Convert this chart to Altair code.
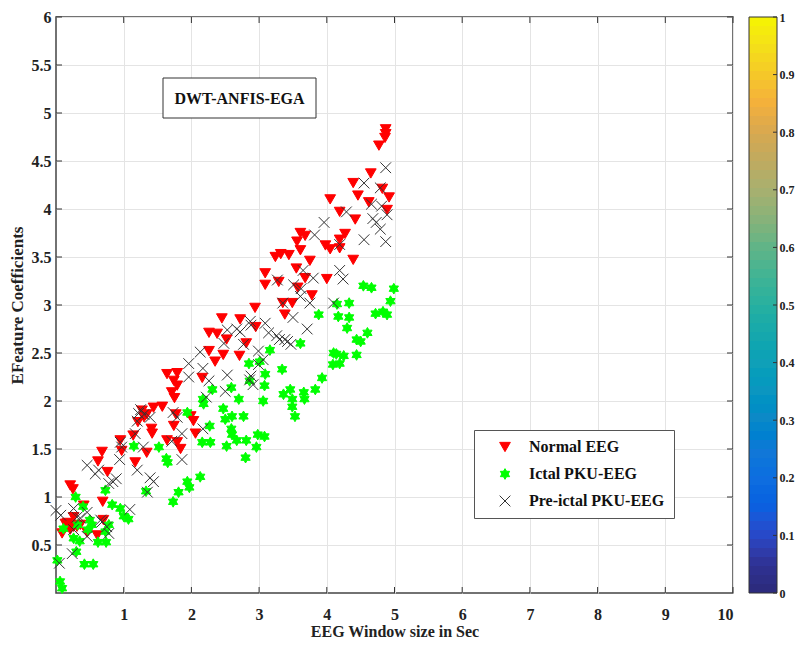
import math
import altair as alt
import pandas as pd

# ---------------- data ----------------
SERIES = ["Normal EEG", "Ictal PKU-EEG", "Pre-ictal PKU-EEG"]

normal_x = [4.87, 4.87, 4.86, 4.77, 4.65, 4.39, 4.82, 4.92, 4.46, 4.05, 4.62, 4.89, 4.19, 4.42,
            4.27, 4.19, 4.19, 3.98, 4.05, 4.39, 4.00, 3.61, 3.68, 3.56, 3.61, 3.24, 3.32, 3.44,
            3.75, 3.55, 3.09, 3.68, 3.29, 3.09, 3.57, 3.78, 3.35, 3.49, 2.94, 3.38, 2.45, 2.72,
            2.95, 2.26, 2.38, 2.52, 2.81, 2.26, 2.47, 2.71, 2.35, 1.64, 1.79, 1.74, 1.79, 2.16,
            1.71, 1.75, 1.44, 1.57, 1.27, 1.34, 1.30, 1.21, 1.41, 1.42, 1.77, 1.99, 2.03, 1.74,
            2.06, 1.64, 1.79, 1.84, 0.95, 0.97, 1.14, 1.34, 1.17, 0.68, 0.62, 0.76, 0.21, 0.25,
            0.69, 0.41, 0.26, 0.70, 0.14, 0.20, 0.26, 0.36, 0.09, 0.21, 0.46, 0.61, 0.31, 0.17]
normal_y = [4.83, 4.78, 4.74, 4.66, 4.37, 4.27, 4.21, 4.12, 4.14, 4.10, 4.07, 3.99, 3.97, 3.89,
            3.74, 3.68, 3.59, 3.62, 3.58, 3.47, 3.27, 3.75, 3.72, 3.66, 3.57, 3.50, 3.53, 3.52,
            3.46, 3.38, 3.33, 3.28, 3.24, 3.21, 3.18, 3.10, 3.02, 3.02, 2.97, 2.90, 2.86, 2.85,
            2.77, 2.71, 2.70, 2.64, 2.60, 2.52, 2.48, 2.47, 2.41, 2.28, 2.29, 2.21, 2.16, 2.24,
            2.09, 2.03, 1.93, 1.94, 1.90, 1.86, 1.83, 1.78, 1.71, 1.66, 1.86, 1.84, 1.79, 1.74,
            1.66, 1.59, 1.57, 1.50, 1.59, 1.48, 1.64, 1.46, 1.36, 1.47, 1.37, 1.26, 1.12, 1.08,
            0.95, 0.91, 0.79, 0.76, 0.72, 0.71, 0.69, 0.71, 0.62, 0.66, 0.63, 0.60, 0.69, 0.73]

ictal_x = [4.54, 4.66, 4.99, 4.94, 4.15, 4.33, 3.88, 4.17, 4.33, 4.72, 4.83, 4.89, 4.30, 4.60,
           4.44, 4.50, 3.61, 3.16, 4.10, 4.14, 4.25, 4.44, 4.09, 4.19, 3.34, 3.93, 3.09, 2.85,
           3.01, 2.59, 2.31, 3.83, 2.86, 3.08, 3.46, 3.36, 3.66, 3.67, 3.06, 3.49, 3.49, 2.17,
           2.18, 2.70, 2.47, 1.94, 2.60, 2.77, 2.50, 3.53, 2.27, 2.59, 2.60, 2.67, 2.81, 2.98,
           3.08, 2.16, 2.28, 2.52, 2.96, 2.80, 1.15, 1.52, 1.63, 1.65, 2.13, 1.94, 1.97, 1.81,
           1.73, 1.33, 0.73, 0.83, 0.29, 0.40, 0.95, 1.00, 1.07, 0.50, 0.53, 0.78, 0.11, 0.32,
           0.47, 0.73, 0.26, 0.35, 0.62, 0.74, 0.30, 0.02, 0.42, 0.55, 0.06, 0.09]
ictal_y = [3.20, 3.18, 3.17, 3.04, 3.01, 3.02, 2.90, 2.88, 2.87, 2.91, 2.93, 2.90, 2.76, 2.71,
           2.64, 2.62, 2.60, 2.53, 2.50, 2.49, 2.47, 2.48, 2.38, 2.39, 2.33, 2.24, 2.28, 2.39,
           2.41, 2.14, 2.12, 2.12, 2.21, 2.16, 2.12, 2.07, 2.09, 2.02, 2.00, 2.02, 1.94, 2.02,
           1.97, 2.02, 1.92, 1.88, 1.84, 1.84, 1.81, 1.84, 1.74, 1.71, 1.65, 1.59, 1.59, 1.65,
           1.63, 1.57, 1.57, 1.53, 1.52, 1.41, 1.53, 1.52, 1.40, 1.36, 1.21, 1.16, 1.10, 1.05,
           0.95, 1.06, 1.07, 0.92, 1.00, 0.90, 0.88, 0.80, 0.77, 0.76, 0.71, 0.71, 0.67, 0.71,
           0.66, 0.64, 0.57, 0.54, 0.53, 0.53, 0.43, 0.34, 0.30, 0.30, 0.12, 0.05]

preictal_x = [4.87, 4.55, 4.79, 4.66, 4.81, 4.29, 4.89, 4.68, 4.73, 3.96, 4.79, 3.82, 4.55, 4.87,
              4.19, 4.19, 3.65, 3.80, 4.24, 3.27, 3.51, 3.62, 3.61, 4.10, 3.75, 3.35, 3.50, 2.87,
              3.09, 2.88, 2.67, 2.53, 3.14, 2.72, 3.26, 3.71, 3.30, 3.38, 3.42, 3.47, 2.77, 2.48,
              2.13, 2.99, 3.06, 2.99, 1.96, 2.17, 1.96, 2.26, 2.53, 2.88, 2.86, 2.91, 2.50, 2.22,
              1.25, 1.22, 1.30, 1.39, 1.20, 1.73, 1.79, 2.17, 1.86, 1.17, 1.71, 0.95, 0.97, 1.29,
              1.86, 0.94, 1.20, 0.46, 0.58, 0.63, 0.78, 0.84, 0.89, 1.39, 1.44, 1.35, 1.09, 0.00,
              0.07, 0.26, 0.31, 0.46, 0.68, 0.75, 0.78, 0.46, 0.24, 0.05, 0.36, 0.66, 0.26]
preictal_y = [4.43, 4.27, 4.22, 4.05, 4.03, 3.97, 3.94, 3.90, 3.86, 3.86, 3.79, 3.73, 3.68, 3.66,
              3.63, 3.36, 3.36, 3.28, 3.27, 3.26, 3.21, 3.17, 3.09, 3.02, 3.02, 3.02, 2.87, 2.83,
              2.81, 2.79, 2.75, 2.74, 2.71, 2.72, 2.68, 2.75, 2.64, 2.64, 2.62, 2.59, 2.59, 2.60,
              2.51, 2.52, 2.43, 2.38, 2.39, 2.34, 2.25, 2.21, 2.27, 2.26, 2.22, 2.17, 2.10, 2.04,
              1.91, 1.87, 1.86, 1.83, 1.79, 1.88, 1.83, 1.71, 1.66, 1.66, 1.58, 1.57, 1.52, 1.52,
              1.39, 1.39, 1.28, 1.33, 1.24, 1.28, 1.14, 1.16, 1.19, 1.20, 1.16, 1.05, 0.87, 0.86,
              0.81, 0.88, 0.79, 0.84, 0.74, 0.69, 0.62, 0.59, 0.41, 0.31, 0.78, 0.76, 0.66]

x_ticks = [1, 2, 3, 4, 5, 6, 7, 8, 9, 10]
y_ticks = [0.5, 1, 1.5, 2, 2.5, 3, 3.5, 4, 4.5, 5, 5.5, 6]
cbar_ticks = [0, 0.1, 0.2, 0.3, 0.4, 0.5, 0.6, 0.7, 0.8, 0.9, 1]
cbar_stops = [0, 0.05, 0.1, 0.15, 0.2, 0.25, 0.3, 0.35, 0.4, 0.45, 0.5, 0.55, 0.6, 0.65,
              0.7, 0.75, 0.8, 0.85, 0.9, 0.95, 1]
cbar_colors = ["#2b2a7a", "#2f3294", "#2848c8", "#0a60e0", "#0f6ee0", "#1478d6", "#1088c8",
               "#0c96c0", "#10a0b8", "#18a8ac", "#28b0a0", "#40b494", "#60b488", "#88b27a",
               "#a8b070", "#c0aa60", "#d8a850", "#f4b03c", "#f5c828", "#f4e018", "#f5f500"]
ANNOTATION = "DWT-ANFIS-EGA"
X_TITLE = "EEG Window size in Sec"
Y_TITLE = "EFeature Coefficients"

# ---------------- build tables ----------------
rows = []
for name, xs, ys in [(SERIES[0], normal_x, normal_y), (SERIES[1], ictal_x, ictal_y),
                     (SERIES[2], preictal_x, preictal_y)]:
    for a, b in zip(xs, ys):
        rows.append({"series": name, "x": a, "y": b, "order": len(rows)})
points = pd.DataFrame(rows)

N_STEPS = 64
cbar = pd.DataFrame({
    "v0": [i / N_STEPS for i in range(N_STEPS)],
    "v1": [(i + 1) / N_STEPS for i in range(N_STEPS)],
})
cbar["mid"] = (cbar["v0"] + cbar["v1"]) / 2

# hexagram marker path
pts = []
for k in range(12):
    ang = math.radians(-90 + 30 * k)
    r = 1.0 if k % 2 == 0 else 0.577
    pts.append(f"{r * math.cos(ang):.3f},{r * math.sin(ang):.3f}")
HEXAGRAM = "M" + "L".join(pts) + "Z"
XMARK = "M-1,-1L1,1M1,-1L-1,1"

FONT = "Liberation Serif"
W, H = 677, 576
CB_L, CB_R = W + 16, W + 44   # colorbar edges, relative to the plot area

xscale = alt.Scale(domain=[0, 10], nice=False, zero=False)
yscale = alt.Scale(domain=[0, 6], nice=False, zero=False)

leg = dict(title=None, orient="none", legendX=418, legendY=413)

scatter = alt.Chart(points).mark_point(opacity=1, strokeWidth=1, size=115).encode(
    x=alt.X("x:Q", scale=xscale, axis=alt.Axis(
        values=x_ticks, format="~g", title=X_TITLE, grid=True, ticks=False, domain=False,
        labelPadding=13, titlePadding=1, titleFontSize=16)),
    y=alt.Y("y:Q", scale=yscale, axis=alt.Axis(
        values=y_ticks, format="~g", title=Y_TITLE, grid=True, ticks=False, domain=False,
        labelPadding=5, titlePadding=5, titleFontSize=17)),
    shape=alt.Shape("series:N", scale=alt.Scale(domain=SERIES, range=["triangle-down", HEXAGRAM, XMARK]),
                    legend=alt.Legend(fillColor="white", strokeColor="#555", padding=9,
                                      rowPadding=11, symbolSize=115, symbolOffset=14,
                                      labelOffset=16, labelFont=FONT, labelFontWeight="bold",
                                      labelFontSize=16, labelColor="#111", symbolStrokeWidth=1,
                                      cornerRadius=0, **leg)),
    fill=alt.Fill("series:N", scale=alt.Scale(domain=SERIES, range=["#ff0000", "#00ff00", "transparent"]),
                  legend=alt.Legend(**leg)),
    stroke=alt.Stroke("series:N", scale=alt.Scale(domain=SERIES, range=["#ff0000", "#00ff00", "#333333"]),
                      legend=alt.Legend(**leg)),
    order=alt.Order("order:Q"),
)

tick_df_x = pd.DataFrame({"t": x_ticks})
tick_df_y = pd.DataFrame({"t": y_ticks})
bottom_ticks = alt.Chart(tick_df_x).mark_rule(color="#333", strokeWidth=1).encode(
    x=alt.X("t:Q", scale=xscale), y=alt.value(H), y2=alt.value(H - 6))
top_ticks = alt.Chart(tick_df_x).mark_rule(color="#333", strokeWidth=1).encode(
    x=alt.X("t:Q", scale=xscale), y=alt.value(0), y2=alt.value(6))
left_ticks = alt.Chart(tick_df_y).mark_rule(color="#333", strokeWidth=1).encode(
    y=alt.Y("t:Q", scale=yscale), x=alt.value(0), x2=alt.value(6))
right_ticks = alt.Chart(tick_df_y).mark_rule(color="#333", strokeWidth=1).encode(
    y=alt.Y("t:Q", scale=yscale), x=alt.value(W), x2=alt.value(W - 6))

ann_df = pd.DataFrame({"label": [ANNOTATION]})
ann_box = alt.Chart(ann_df).mark_rect(fill="white", stroke="#333", strokeWidth=1).encode(
    x=alt.value(107), x2=alt.value(260), y=alt.value(61), y2=alt.value(101))
ann_text = alt.Chart(ann_df).mark_text(font=FONT, fontWeight="bold", fontSize=16, color="#111",
                                       align="center", baseline="middle").encode(
    x=alt.value(183.5), y=alt.value(81.5), text="label:N")

main = alt.layer(bottom_ticks, top_ticks, left_ticks, right_ticks, ann_box, ann_text, scatter)

cscale = alt.Scale(domain=[0, 1], nice=False, zero=False)
cbar_rects = alt.Chart(cbar).mark_rect().encode(
    x=alt.value(CB_L), x2=alt.value(CB_R),
    y=alt.Y("v0:Q", scale=cscale,
            axis=alt.Axis(orient="right", offset=CB_R - W, values=cbar_ticks, format="~g", title=None,
                          grid=False, ticks=False, domain=False, labelPadding=2,
                          labelFontSize=12)),
    y2="v1:Q",
    color=alt.Color("mid:Q", scale=alt.Scale(domain=cbar_stops, range=cbar_colors), legend=None),
)
cbar_frame = alt.Chart(pd.DataFrame({"a": [0], "b": [1]})).mark_rect(
    fill="transparent", stroke="#333", strokeWidth=1).encode(
    x=alt.value(CB_L), x2=alt.value(CB_R), y=alt.Y("a:Q", scale=cscale), y2="b:Q")
cbar_tickmarks = alt.Chart(pd.DataFrame({"t": cbar_ticks})).mark_rule(
    color="#333", strokeWidth=1).encode(
    y=alt.Y("t:Q", scale=cscale), x=alt.value(CB_R), x2=alt.value(CB_R - 4))
cbar_layer = alt.layer(cbar_rects, cbar_frame, cbar_tickmarks)

chart = alt.layer(main, cbar_layer).resolve_scale(y="independent").properties(
    width=W, height=H,
    autosize=alt.AutoSizeParams(type="none"),
    padding={"left": 48, "top": 9, "right": 62, "bottom": 46},
).configure_view(stroke="#444", strokeWidth=1.5).configure_axis(
    labelFont=FONT, labelFontWeight="bold", labelFontSize=16, labelColor="#222",
    titleFont=FONT, titleFontWeight="bold", titleFontSize=16, titleColor="#222",
    gridColor="#e4e4e4", gridWidth=1,
)

chart.save("out.html", embed_options={"renderer": "svg", "actions": False})
